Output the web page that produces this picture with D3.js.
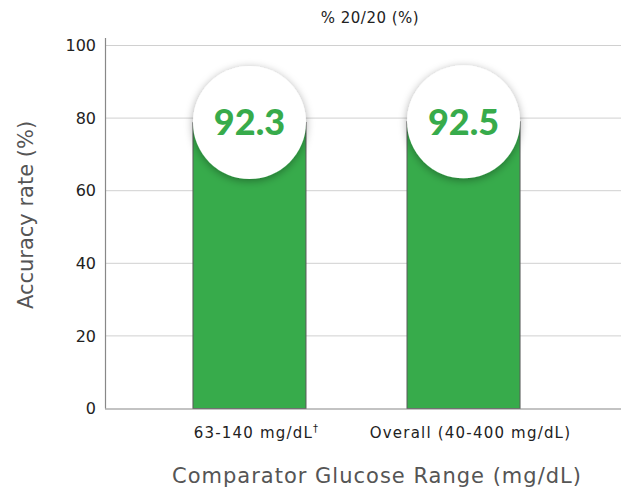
<!DOCTYPE html>
<html>
<head>
<meta charset="utf-8">
<script src="https://cdn.jsdelivr.net/npm/d3@7"></script>
<style>
	body { margin: 0; background: #fff; }
	text { font-family: "DejaVu Sans", sans-serif; }
</style>
</head>
<body>
<div id="chart-area"></div>
<script>
var categories = ["63-140 mg/dL", "Overall (40-400 mg/dL)"];
var values = [92.3, 92.5];
var yTicks = [0, 20, 40, 60, 80, 100];

var data = categories.map(function(c, i) { return {cat: c, value: values[i]}; });

var width = 621, height = 492;

var svg = d3.select("#chart-area")
	.append("svg")
		.attr("width", width)
		.attr("height", height);

var defs = svg.append("defs");
var f = defs.append("filter")
	.attr("id", "shadow")
	.attr("x", "-30%").attr("y", "-30%")
	.attr("width", "160%").attr("height", "160%");
f.append("feDropShadow")
	.attr("dx", 0).attr("dy", 2)
	.attr("stdDeviation", 4)
	.attr("flood-color", "#000")
	.attr("flood-opacity", 0.35);

var x = d3.scaleBand()
	.domain(categories)
	.range([105, 608])
	.paddingInner(0.472)
	.paddingOuter(0.411);

var y = d3.scaleLinear()
	.domain([0, 100])
	.range([408.5, 45.5]);

// gridlines
svg.append("g")
	.selectAll("line")
	.data(yTicks.filter(function(d) { return d > 0; }))
	.enter()
	.append("line")
		.attr("x1", 105)
		.attr("x2", width)
		.attr("y1", function(d) { return y(d); })
		.attr("y2", function(d) { return y(d); })
		.attr("stroke", "#d0d0d0")
		.attr("stroke-width", 1);

// y axis
var leftAxis = d3.axisLeft(y).tickValues(yTicks).tickSize(0).tickPadding(9);
var ya = svg.append("g")
	.attr("class", "left axis")
	.attr("transform", "translate(105,0)")
	.call(leftAxis);
ya.select(".domain").remove();
ya.selectAll("text")
	.attr("font-size", "16px")
	.style("font-family", "'DejaVu Sans', sans-serif")
	.style("fill", "#222");

svg.append("line")
	.attr("x1", 105.5).attr("x2", 105.5)
	.attr("y1", 38).attr("y2", y(0))
	.attr("stroke", "#888")
	.attr("stroke-width", 1.2);

// bars: top sits at the centre of the value bubble
var bubbleOffset = 49;
var r = x.bandwidth() / 2;

svg.append("g")
	.selectAll("rect")
	.data(data)
	.enter()
	.append("rect")
		.attr("x", function(d) { return x(d.cat); })
		.attr("y", function(d) { return y(d.value) + bubbleOffset; })
		.attr("width", x.bandwidth())
		.attr("height", function(d) { return y(0) - y(d.value) - bubbleOffset; })
		.attr("fill", "#37ab4b")
		.attr("stroke", "#5a5a5a")
		.attr("stroke-width", 1);

// x axis line
svg.append("line")
	.attr("x1", 105).attr("x2", width)
	.attr("y1", y(0) + 0.5).attr("y2", y(0) + 0.5)
	.attr("stroke", "#888")
	.attr("stroke-width", 1.2);

// bubbles
var bub = svg.append("g")
	.selectAll("g")
	.data(data)
	.enter()
	.append("g")
		.attr("transform", function(d) {
			return "translate(" + (x(d.cat) + r) + "," + (y(d.value) + bubbleOffset) + ")";
		});

bub.append("circle")
	.attr("r", r)
	.attr("fill", "#fff")
	.attr("filter", "url(#shadow)");

bub.append("text")
	.attr("text-anchor", "middle")
	.attr("y", 13)
	.attr("font-size", "36px")
	.style("font-weight", "900")
	.style("font-family", "Lato, sans-serif")
	.style("fill", "#37ab4b")
	.text(function(d) { return d.value.toFixed(1); });

// x tick labels
var xl = svg.append("g")
	.selectAll("text")
	.data(data)
	.enter()
	.append("text")
		.attr("x", function(d) { return x(d.cat) + r + 7; })
		.attr("y", 438)
		.attr("text-anchor", "middle")
		.attr("font-size", "15px")
		.attr("letter-spacing", "1.2px")
		.style("fill", "#222");
xl.append("tspan").text(function(d) { return d.cat; });
xl.filter(function(d, i) { return i === 0; })
	.append("tspan")
		.attr("dy", -6)
		.attr("font-size", "10px")
		.text("†");

// title
svg.append("text")
	.attr("x", 370)
	.attr("y", 23)
	.attr("text-anchor", "middle")
	.attr("font-size", "15px")
	.attr("letter-spacing", "0.5px")
	.style("fill", "#222")
	.text("% 20/20 (%)");

// axis titles
svg.append("text")
	.attr("x", 377)
	.attr("y", 483)
	.attr("text-anchor", "middle")
	.attr("font-size", "21px")
	.attr("letter-spacing", "1px")
	.style("fill", "#555")
	.text("Comparator Glucose Range (mg/dL)");

svg.append("text")
	.attr("transform", "translate(33,215) rotate(-90)")
	.attr("text-anchor", "middle")
	.attr("font-size", "21px")
	.style("fill", "#555")
	.text("Accuracy rate (%)");
</script>
</body>
</html>
